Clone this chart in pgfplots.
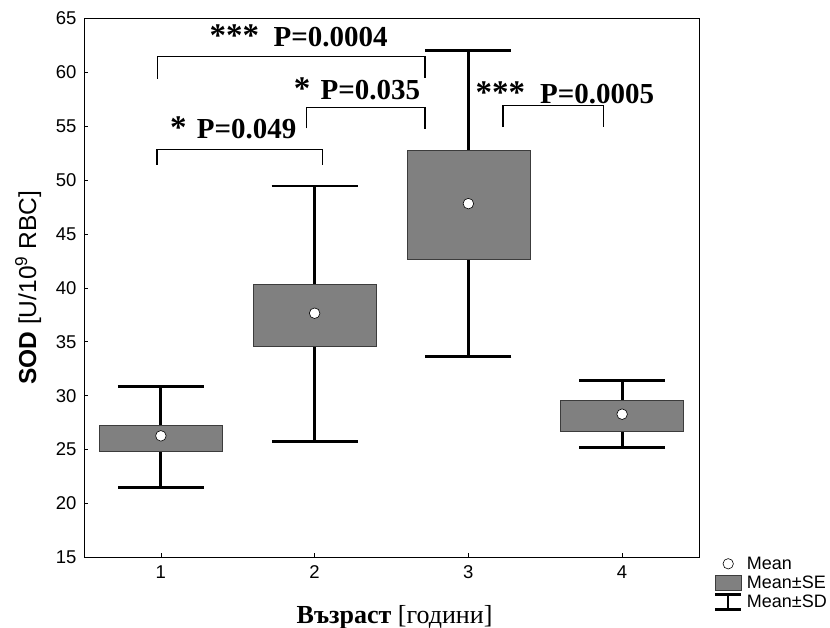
\documentclass[border=0pt]{standalone}
\usepackage{fontspec}
\setmainfont{Liberation Serif}
\setsansfont{Liberation Sans}
\usepackage{pgfplots}
\pgfplotsset{compat=1.18}
\definecolor{boxgray}{RGB}{128,128,128}
\definecolor{edgegray}{RGB}{60,60,60}
\newcommand{\ann}{\fontsize{29bp}{30bp}\selectfont\bfseries}
\newcommand{\stars}{\fontsize{33bp}{34bp}\selectfont\bfseries}
\pgfplotsset{
  sebox/.style={fill=boxgray, draw=edgegray, line width=0.7bp, forget plot},
}
\begin{document}
\begin{tikzpicture}
\useasboundingbox (0,0) rectangle (830bp,628bp);
\begin{axis}[
  at={(84bp,70.7bp)}, anchor=south west,
  scale only axis, width=615bp, height=538.8bp,
  xmin=0.5, xmax=4.5, ymin=15, ymax=65,
  xtick={1,2,3,4}, ytick={15,20,...,65},
  tick align=inside, xtick pos=bottom, ytick pos=left,
  major tick length=4bp, tick style={black, line width=0.6bp},
  axis line style={line width=0.8bp},
  clip=false,
  /pgf/number format/assume math mode=true,
  ticklabel style={font=\sffamily\fontsize{18.5bp}{20bp}\selectfont},
  xticklabel style={yshift=-5bp},
  yticklabel style={xshift=-4bp},
  ylabel={\textbf{SOD} [U/10\textsuperscript{9} RBC]},
  ylabel style={font=\sffamily\fontsize{24.5bp}{26bp}\selectfont, at={(axis description cs:-0.078,0.5)}, anchor=base},
  xlabel={\textbf{Възраст} [години]},
  xlabel style={font=\fontsize{26bp}{28bp}\selectfont, at={(axis description cs:0.505,-0.122)}, anchor=base},
  legend style={at={(axis description cs:1.024,0.004)}, anchor=north west, draw=none, fill=none,
    font=\sffamily\fontsize{18bp}{19bp}\selectfont, inner sep=0pt, row sep=2bp,
    nodes={inner sep=1.5bp},
    /tikz/every odd column/.style={column sep=3bp}},
  legend cell align=left,
]
\addlegendimage{legend image code/.code={\path[draw=none, fill=none] (0bp,-7.5bp) rectangle (26bp,7.5bp); \draw[black, fill=white, line width=0.6bp] (13bp,0bp) circle (5.2bp);}}
\addlegendentry{Mean}
\addlegendimage{legend image code/.code={\draw[edgegray, fill=boxgray, line width=0.7bp] (0bp,-7.5bp) rectangle (26bp,7.5bp);}}
\addlegendentry{Mean\textpm SE}
\addlegendimage{legend image code/.code={\draw[black, line width=2.5bp] (0bp,-7.5bp)--(26bp,-7.5bp) (13bp,-7.5bp)--(13bp,7.5bp) (0bp,7.5bp)--(26bp,7.5bp);}}
\addlegendentry{Mean\textpm SD}

% Mean +- SD whiskers
\addplot[forget plot, black, only marks, mark=none,
  error bars/.cd, y dir=both, y explicit,
  error bar style={line width=2.8bp, black},
  error mark options={rotate=90, line width=2.8bp, mark size=43bp, black}]
  coordinates {
  (1,26.27) += (0,4.61) -= (0,4.82)
  (2,37.65) += (0,11.81) -= (0,11.91)
  (3,47.82) += (0,14.23) -= (0,14.22)
  (4,28.28) += (0,3.09) -= (0,3.12)
  };

% Mean +- SE boxes
\addplot[sebox] coordinates {(0.6,24.85) (1.4,24.85) (1.4,27.26) (0.6,27.26)} -- cycle;
\addplot[sebox] coordinates {(1.6,34.62) (2.4,34.62) (2.4,40.34) (1.6,40.34)} -- cycle;
\addplot[sebox] coordinates {(2.6,42.69) (3.4,42.69) (3.4,52.74) (2.6,52.74)} -- cycle;
\addplot[sebox] coordinates {(3.6,26.73) (4.4,26.73) (4.4,29.52) (3.6,29.52)} -- cycle;

% Means
\addplot[forget plot, only marks, mark=*, mark size=5.3bp, mark options={fill=white, draw=black, line width=0.6bp}] coordinates {(1,26.27) (2,37.65) (3,47.82) (4,28.28)};

% significance brackets
\addplot[forget plot, black, line width=1.3bp] coordinates {(0.974,51.44) (0.974,52.86) (2.05,52.86) (2.05,51.44)};
\addplot[forget plot, black, line width=1.3bp] coordinates {(1.946,54.81) (1.946,56.76) (2.718,56.76) (2.718,54.78)};
\addplot[forget plot, black, line width=1.3bp] coordinates {(0.978,59.39) (0.978,61.46) (2.718,61.46) (2.718,59.5)};
\addplot[forget plot, black, line width=1.3bp] coordinates {(3.226,54.93) (3.226,56.95) (3.88,56.95) (3.88,54.93)};

\node[anchor=base west, inner sep=0pt, font=\stars] at (axis cs:1.315,62.38) {***};
\node[anchor=base west, inner sep=0pt, font=\ann] at (axis cs:1.7326,62.38) {P=0.0004};
\node[anchor=base west, inner sep=0pt, font=\stars] at (axis cs:1.059,53.82) {*};
\node[anchor=base west, inner sep=0pt, font=\ann] at (axis cs:1.2329,53.82) {P=0.049};
\node[anchor=base west, inner sep=0pt, font=\stars] at (axis cs:1.863,57.44) {*};
\node[anchor=base west, inner sep=0pt, font=\ann] at (axis cs:2.0372,57.44) {P=0.035};
\node[anchor=base west, inner sep=0pt, font=\stars] at (axis cs:3.0457,57.07) {***};
\node[anchor=base west, inner sep=0pt, font=\ann] at (axis cs:3.465,57.07) {P=0.0005};
\end{axis}
\end{tikzpicture}
\end{document}
